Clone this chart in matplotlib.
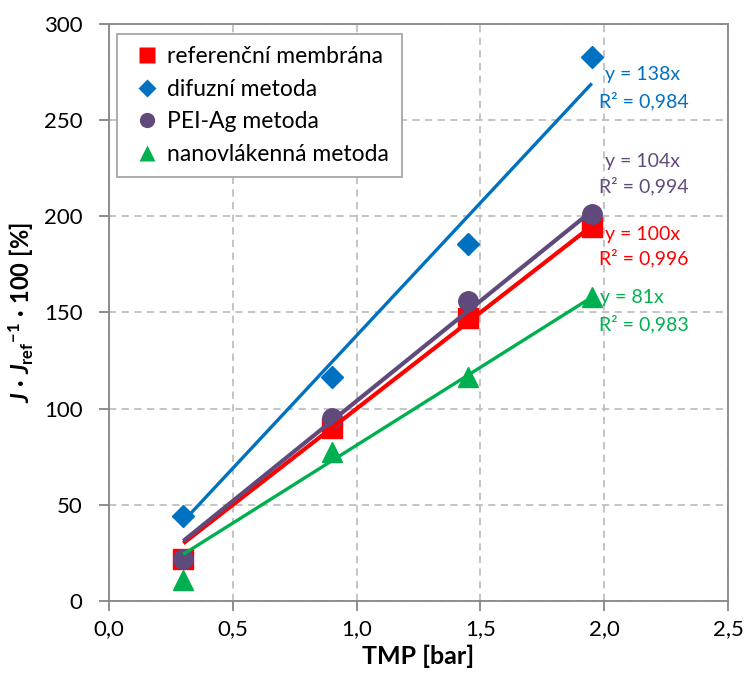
import numpy as np
import matplotlib
matplotlib.use('Agg')
import matplotlib.pyplot as plt
from matplotlib.lines import Line2D

plt.rcParams['font.family'] = ['Lato', 'DejaVu Sans']
plt.rcParams['mathtext.fontset'] = 'custom'
plt.rcParams['mathtext.it'] = 'Lato:bold:italic'
plt.rcParams['mathtext.bf'] = 'Lato:bold'
plt.rcParams['mathtext.rm'] = 'Lato:bold'

# Data
tmp = [0.3, 0.9, 1.45, 1.95]
ref_membrana = [22, 90, 147, 194.5]
difuzni = [44, 116.5, 185.5, 283]
pei_ag = [22, 95, 156, 201]
nanovlakenna = [11, 77.5, 116.5, 158]

series_names = ['referenční membrána', 'difuzní metoda', 'PEI-Ag metoda', 'nanovlákenná metoda']
slopes = [100, 138, 104, 81]
r2_values = ['0,996', '0,984', '0,994', '0,983']

colors = ['#FF0000', '#0070C0', '#604A7B', '#00B050']
markers = ['s', 'D', 'o', '^']
msizes = [14, 11, 14, 15]
lwidths = [3.0, 2.4, 3.0, 2.4]

fig = plt.figure(figsize=(7.45, 6.75), dpi=100)
ax = fig.add_axes([109/745, 1 - 601/675, (728 - 109)/745, (601 - 24)/675])

all_data = [ref_membrana, difuzni, pei_ag, nanovlakenna]
x = np.array(tmp)
for data, k, col, mk, ms, lw in zip(all_data, slopes, colors, markers, msizes, lwidths):
    ax.plot(x, data, linestyle='none', marker=mk, markersize=ms, color=col, zorder=3)
    ax.plot([x[0], x[-1]], [k * x[0], k * x[-1]], color=col, linewidth=lw, zorder=4,
            solid_capstyle='butt')

# trendline equations, pixel rows of the two text lines
eq_y = {1: (75, 101), 2: (162, 186), 0: (235, 258), 3: (298, 324)}
for i, (ypix1, ypix2) in eq_y.items():
    y1 = (601 - ypix1) / 1.923
    y2 = (601 - ypix2) / 1.923
    ax.text(2.005 if i != 3 else 1.985, y1, 'y = %dx' % slopes[i], color=colors[i], fontsize=14,
            va='center', ha='left')
    ax.text(1.98, y2, 'R² = ' + r2_values[i], color=colors[i], fontsize=14,
            va='center', ha='left')

ax.set_xlim(0, 2.5)
ax.set_ylim(0, 300)
ax.set_xticks(np.arange(0, 2.51, 0.5))
ax.set_yticks(np.arange(0, 301, 50))
ax.set_xticklabels([('%.1f' % v).replace('.', ',') for v in np.arange(0, 2.51, 0.5)])
ax.tick_params(axis='both', labelsize=16, length=7, width=1.3, color='#868686', direction='out')
ax.tick_params(axis='x', pad=6)
ax.tick_params(axis='y', pad=12)
ax.grid(True, color='#BFBFBF', linestyle=(0, (4, 3)), linewidth=1.3)
ax.set_axisbelow(True)
for s in ax.spines.values():
    s.set_color('#868686')
    s.set_linewidth(1.3)

ax.set_xlabel('TMP [bar]', fontsize=18, fontweight='bold', labelpad=4)
ax.set_ylabel(r'$J\ \mathbf{·}\ J_{\mathbf{ref}}{}^{\mathbf{-1}}\ \mathbf{·\ 100\ [\%]}$',
              fontsize=17, labelpad=6)

# legend
legend_elements = [Line2D([0], [0], marker=mk, color='none', label=nm, markerfacecolor=col,
                          markeredgecolor='none', markersize=ms)
                   for nm, col, mk, ms in zip(series_names, colors, markers, [11, 9, 11, 11])]
leg = ax.legend(handles=legend_elements, loc='upper left', bbox_to_anchor=(0.013, 0.983),
                fontsize=16.5, frameon=True, fancybox=False, edgecolor='#A6A6A6',
                handlelength=1.5, handletextpad=0.15, labelspacing=0.5, borderpad=0.55,
                borderaxespad=0, framealpha=1)
leg.get_frame().set_linewidth(1.3)
leg.set_zorder(10)

plt.savefig('out.png', dpi=100)
plt.close(None)
